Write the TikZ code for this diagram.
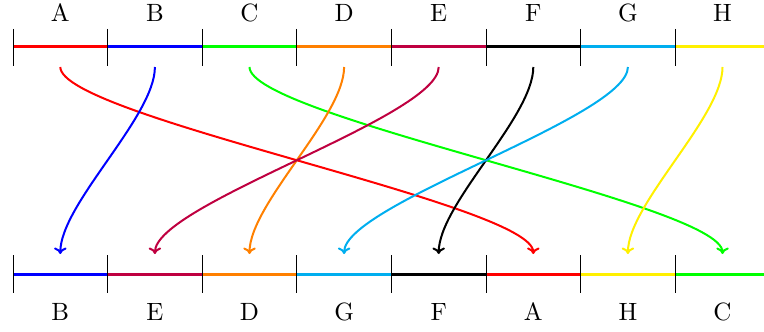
\documentclass[tikz,border=0pt]{standalone}
\usetikzlibrary{arrows.meta}
\definecolor{cRed}{RGB}{255,0,0}
\definecolor{cBlue}{RGB}{0,0,255}
\definecolor{cGreen}{RGB}{0,255,0}
\definecolor{cOrange}{RGB}{255,128,0}
\definecolor{cPurple}{RGB}{191,0,64}
\definecolor{cBlack}{RGB}{0,0,0}
\definecolor{cCyan}{RGB}{0,174,239}
\definecolor{cYellow}{RGB}{255,240,0}
\begin{document}
\begin{tikzpicture}[x=0.4pt,y=-0.4pt,
  seg/.style={line width=1.2pt},
  tickmark/.style={line width=0.4pt,black},
  link/.style={line width=0.8pt,-{To[length=2.6pt,width=5pt]}},
  lab/.style={inner sep=0pt,font=\normalsize}]
\useasboundingbox (0,0) rectangle (764,332);
% top row
\foreach \i/\c/\l in {1/cRed/A,2/cBlue/B,3/cGreen/C,4/cOrange/D,5/cPurple/E,6/cBlack/F,7/cCyan/G,8/cYellow/H}{
  \draw[seg,\c] ({13+94.6*(\i-1)},47) -- ({13+94.6*\i},47);
  \node[lab] (top\i) at ({13+94.6*(\i-0.5)},13) {\l};
  \coordinate (ts\i) at ({13+94.6*(\i-0.5)},67);
}
% bottom row
\foreach \i/\c/\l in {1/cBlue/B,2/cPurple/E,3/cOrange/D,4/cCyan/G,5/cBlack/F,6/cRed/A,7/cYellow/H,8/cGreen/C}{
  \draw[seg,\c] ({13+94.6*(\i-1)},274) -- ({13+94.6*\i},274);
  \node[lab] (bot\i) at ({13+94.6*(\i-0.5)},312) {\l};
  \coordinate (be\i) at ({13+94.6*(\i-0.5)},254);
}
\foreach \i in {0,...,8}{
  \draw[tickmark] ({13+94.6*\i},29) -- ({13+94.6*\i},66);
  \draw[tickmark] ({13+94.6*\i},255) -- ({13+94.6*\i},293);
}
% links
\draw[link,cRed]    (ts1) .. controls +(0,50) and +(0,-50) .. (be6);
\draw[link,cBlue]   (ts2) .. controls +(0,50) and +(0,-50) .. (be1);
\draw[link,cGreen]  (ts3) .. controls +(0,50) and +(0,-50) .. (be8);
\draw[link,cOrange] (ts4) .. controls +(0,50) and +(0,-50) .. (be3);
\draw[link,cPurple] (ts5) .. controls +(0,50) and +(0,-50) .. (be2);
\draw[link,cBlack]  (ts6) .. controls +(0,50) and +(0,-50) .. (be5);
\draw[link,cCyan]   (ts7) .. controls +(0,50) and +(0,-50) .. (be4);
\draw[link,cYellow] (ts8) .. controls +(0,50) and +(0,-50) .. (be7);
\end{tikzpicture}
\end{document}
